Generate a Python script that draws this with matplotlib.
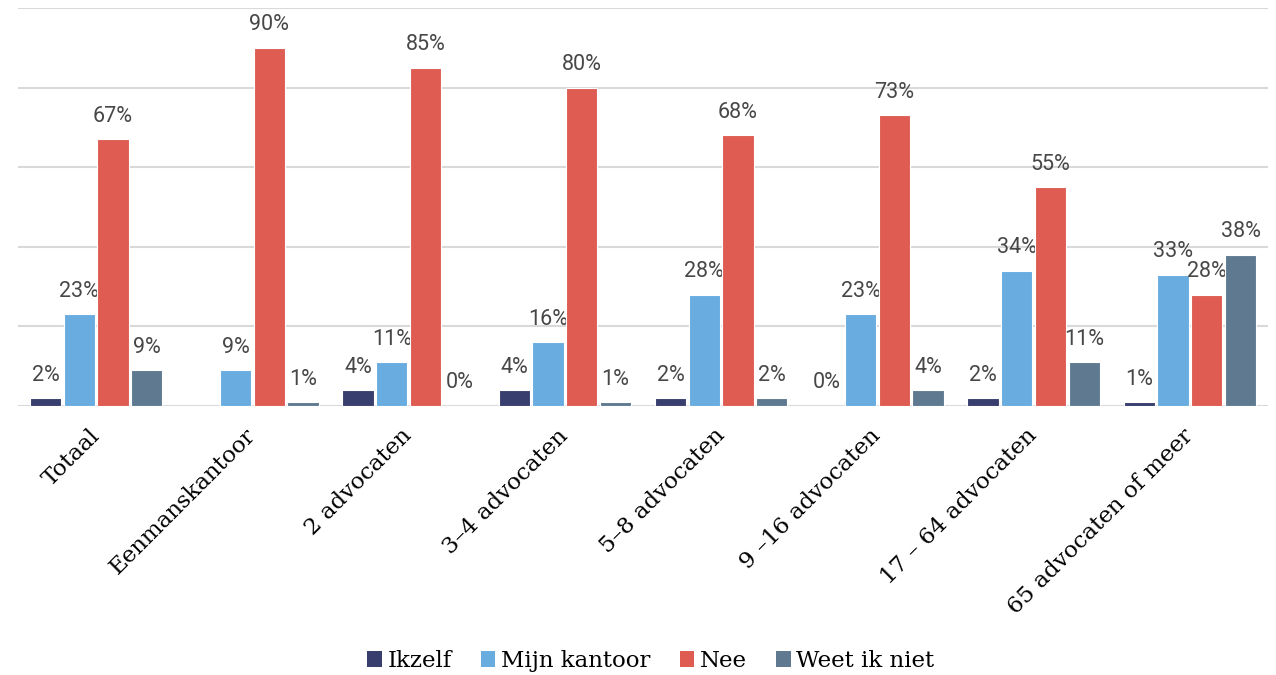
import numpy as np
import matplotlib.pyplot as plt
from matplotlib.patches import Patch

categories = ["Totaal", "Eenmanskantoor", "2 advocaten", "3–4 advocaten",
              "5–8 advocaten", "9 –16 advocaten", "17 – 64 advocaten",
              "65 advocaten of meer"]
series = ["Ikzelf", "Mijn kantoor", "Nee", "Weet ik niet"]

# None = no bar / no label shown
ikzelf = [2, None, 4, 4, 2, 0, 2, 1]
mijn_kantoor = [23, 9, 11, 16, 28, 23, 34, 33]
nee = [67, 90, 85, 80, 68, 73, 55, 28]
weet_ik_niet = [9, 1, 0, 1, 2, 4, 11, 38]

colors = ["#383e6e", "#68ace0", "#de5c52", "#5f7a90"]

fig = plt.figure(figsize=(12.76, 6.75), dpi=100)
ax = fig.add_axes([18 / 1276, 1 - 406 / 675, 1250 / 1276, 398 / 675])

x = np.arange(len(categories))
pitch = 0.216
width = 0.2
all_vals = [ikzelf, mijn_kantoor, nee, weet_ik_niet]

for k, vals in enumerate(all_vals):
    pos = x + (k - 1.5) * pitch
    heights = [0 if v is None else v for v in vals]
    ax.bar(pos, heights, width=width, color=colors[k], edgecolor="white",
           linewidth=0.8, zorder=3)
    for p, v in zip(pos, vals):
        if v is None:
            continue
        ax.annotate(f"{v}%", (p, v), xytext=(0, 9), textcoords="offset points",
                    ha="center", va="bottom", fontsize=15.5, color="#474747",
                    family="Roboto", annotation_clip=False)

ax.set_xlim(-0.5, len(categories) - 0.5)
ax.set_ylim(0, 100)
ax.set_yticks([0, 20, 40, 60, 80, 100])
ax.yaxis.grid(True, color="#d9d9d9", linewidth=1.5, zorder=0)
ax.tick_params(axis="y", left=False, labelleft=False)
ax.tick_params(axis="x", length=0, pad=19)
for s in ax.spines.values():
    s.set_visible(False)

ax.set_xticks(x)
ax.set_xticklabels(categories, rotation=45, ha="right", va="center",
                   rotation_mode="anchor", family="DejaVu Serif", fontsize=16.5,
                   color="black")

handles = [Patch(facecolor=c, label=s) for c, s in zip(colors, series)]
fig.legend(handles=handles, loc="center", bbox_to_anchor=(0.51, 1 - 661 / 675),
           ncol=4, frameon=False, prop={"family": "DejaVu Serif", "size": 16.5},
           handlelength=0.64, handleheight=0.64, handletextpad=0.25,
           columnspacing=1.27, borderpad=0)

fig.savefig("out.png", dpi=100)
